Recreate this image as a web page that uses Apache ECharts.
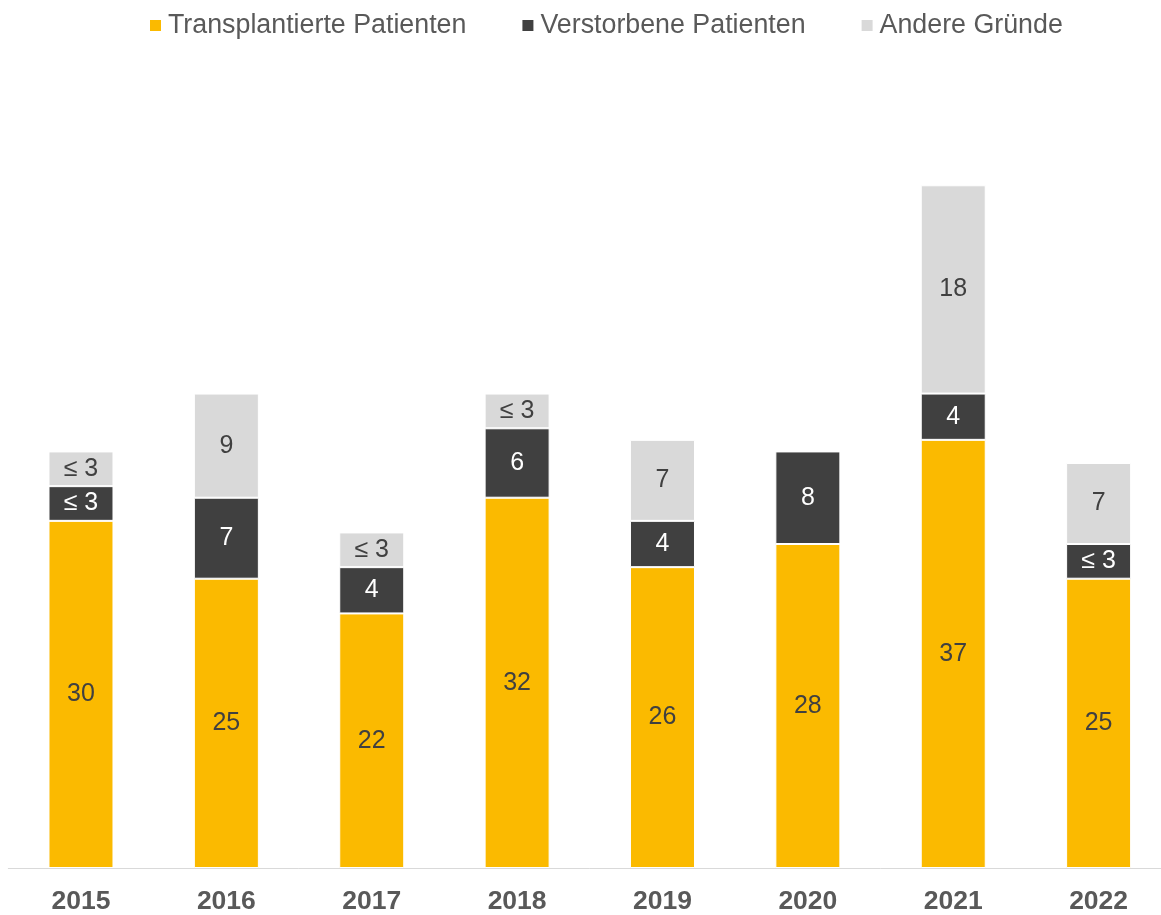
<!DOCTYPE html>
<html>
<head>
<meta charset="utf-8">
<script src="https://cdn.jsdelivr.net/npm/echarts@6/dist/echarts.min.js"></script>
<style>
  html, body { margin: 0; padding: 0; background: #fff; overflow: hidden; }
  /* etwas breiter als das Fenster: die letzte Säule liegt wie im Original knapp am Rand */
  #chart { width: 1172px; height: 915px; }
</style>
</head>
<body>
<div id="chart"></div>
<script>
  // Jahre
  var jahre = ['2015', '2016', '2017', '2018', '2019', '2020', '2021', '2022'];
  // Werte je Abgangsgrund
  var transplantiert = [30, 25, 22, 32, 26, 28, 37, 25];
  var verstorben = [3, 7, 4, 6, 4, 8, 4, 3];
  var andere = [3, 9, 3, 3, 7, null, 18, 7];
  var namen = ['Transplantierte Patienten', 'Verstorbene Patienten', 'Andere Gründe'];

  var schrift = 'Liberation Sans, Arial, sans-serif';

  // Werte bis 3 werden nicht genau angezeigt
  function labelText(p) {
    if (p.value == null || p.value === 0) return '';
    return p.value <= 3 ? '≤ 3' : String(p.value);
  }

  function reihe(name, data, farbe, textFarbe) {
    return {
      name: name,
      type: 'bar',
      stack: 'gesamt',
      barWidth: 65,
      data: data,
      itemStyle: { color: farbe, borderColor: '#fff', borderWidth: 1 },
      label: {
        show: true,
        position: 'inside',
        formatter: labelText,
        color: textFarbe,
        fontSize: 25,
        fontFamily: schrift
      }
    };
  }

  var chart = echarts.init(document.getElementById('chart'));

  var option = {
    animation: false,
    legend: {
      top: 7,
      left: 145,
      itemWidth: 11,
      itemHeight: 11,
      itemGap: 56,
      icon: 'rect',
      itemStyle: { borderWidth: 0 },
      textStyle: {
        color: '#595959',
        fontSize: 26.8,
        fontFamily: schrift,
        padding: [0, 0, 0, 2]
      },
      data: namen
    },
    grid: {
      left: 8.3,
      top: 58,
      bottom: 46,
      width: 1163
    },
    xAxis: {
      type: 'category',
      data: jahre,
      axisLine: { lineStyle: { color: '#D9D9D9', width: 1 } },
      axisTick: { show: false },
      axisLabel: {
        color: '#595959',
        fontSize: 26.5,
        fontWeight: 'bold',
        fontFamily: schrift,
        margin: 20
      }
    },
    yAxis: {
      type: 'value',
      min: 0,
      max: 70,
      show: false,
      splitLine: { show: false }
    },
    series: [
      reihe(namen[0], transplantiert, '#FBBA00', '#404040'),
      reihe(namen[1], verstorben, '#404040', '#FFFFFF'),
      reihe(namen[2], andere, '#D9D9D9', '#404040')
    ]
  };

  chart.setOption(option);
</script>
</body>
</html>
